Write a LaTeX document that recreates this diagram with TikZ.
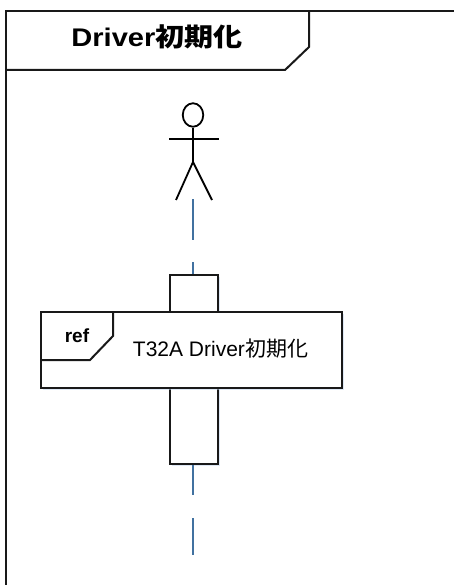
\documentclass[tikz,border=0pt]{standalone}
\usepackage{fontspec}
\setmainfont{Liberation Sans}
\newfontfamily\cjk{Noto Sans CJK JP}
\usetikzlibrary{shadows,shapes.geometric}
\definecolor{lifeblue}{RGB}{65,113,160}
\definecolor{glow}{RGB}{190,210,235}
\tikzset{
  frameline/.style={draw=black!90, line width=2pt, line join=miter},
  shadowed/.style={drop shadow={shadow xshift=1.5pt, shadow yshift=-2pt, opacity=0.5, fill=glow}},
  boxstyle/.style={frameline, fill=white, inner sep=0pt, minimum width=48pt, minimum height=189pt},
  lifeline/.style={draw=lifeblue, line width=2.2pt},
  actorline/.style={draw=black, line width=1.8pt}
}
\begin{document}
\begin{tikzpicture}[x=1pt,y=-1pt]
\useasboundingbox (0,0) rectangle (454,585);
% outer frame
\coordinate (ftr) at (460,11);
\coordinate (ftl) at (5.5,11);
\coordinate (fbl) at (5.5,592);
\draw[frameline] (ftr) -- (ftl) -- (fbl);
% title tab
\coordinate (t1) at (5.5,70);
\coordinate (t2) at (285,70);
\coordinate (t3) at (309,47);
\coordinate (t4) at (309,11);
\draw[frameline] (t1) -- (t2) -- (t3) -- (t4);
\node[anchor=base, inner sep=0pt, xscale=1.14] (title) at (157,46.7)
  {\fontsize{25.5}{29}\selectfont\bfseries Driver{\cjk\bfseries 初期化}};
% actor
\node[actorline, ellipse, draw, minimum width=20.5pt, minimum height=23.5pt, inner sep=0pt] (head) at (193,115) {};
\coordinate (hip) at (193,162);
\coordinate (armL) at (169,139);
\coordinate (armR) at (219,139);
\coordinate (legL) at (176,200);
\coordinate (legR) at (212,200);
\draw[actorline] (head.south) -- (hip);
\draw[actorline] (armL) -- (armR);
\draw[actorline] (legL) -- (hip) -- (legR);
% lifeline
\coordinate (l1) at (193,199);
\coordinate (l2) at (193,240);
\coordinate (l3) at (193,262);
\coordinate (l6) at (193,495);
\coordinate (l7) at (193,518);
\coordinate (l8) at (193,555);
% activation
\node[boxstyle, shadowed] (act) at (194,369.5) {};
\draw[lifeline] (l1) -- (l2);
\draw[lifeline] (l3) -- (act.north -| l3);
\draw[lifeline] (act.south -| l3) -- (l6);
\draw[lifeline] (l7) -- (l8);
% ref box
\node[frameline, fill=white, shadowed, minimum width=301pt, minimum height=76pt, inner sep=0pt] (ref) at (191.5,350) {};
\coordinate (r1) at (41,360);
\coordinate (r2) at (90,360);
\coordinate (r3) at (113,336);
\coordinate (r4) at (113,312);
\draw[frameline] (r1) -- (r2) -- (r3) -- (r4);
\node[anchor=base, inner sep=0pt] (reflabel) at (77,342.7)
  {\fontsize{19}{22}\selectfont\bfseries ref};
\node[anchor=base, inner sep=0pt] (reftext) at (220.5,356.7)
  {\fontsize{21}{25}\selectfont T32A Driver{\cjk 初期化}};
\end{tikzpicture}
\end{document}
